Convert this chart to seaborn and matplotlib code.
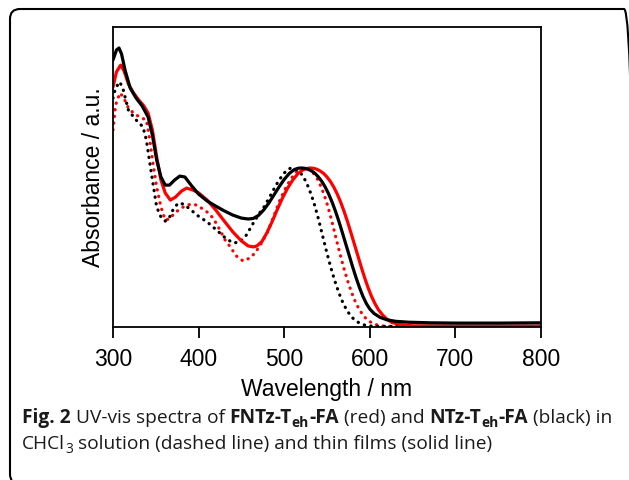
import matplotlib
matplotlib.use("Agg")
import matplotlib.pyplot as plt
from matplotlib.patches import FancyBboxPatch
from matplotlib.transforms import IdentityTransform
import seaborn as sns
import pandas as pd

# ---------------- data ----------------
# NTz-Teh-FA thin film (black solid)
wl_film_ntz = [300, 304, 307, 310, 314, 320, 327, 334, 341, 346, 351, 356, 361, 366, 372,
               378, 384, 392, 400, 410, 420, 430, 440, 450, 458, 464, 470, 476, 482, 488,
               494, 500, 506, 512, 516, 520, 524, 528, 532, 536, 540, 544, 548, 552, 556,
               560, 564, 568, 572, 576, 580, 584, 588, 592, 596, 600, 605, 612, 620, 630,
               645, 670, 700, 750, 800]
abs_film_ntz = [0.890, 0.923, 0.930, 0.910, 0.857, 0.797, 0.763, 0.737, 0.700, 0.640, 0.557,
                0.500, 0.473, 0.473, 0.490, 0.503, 0.500, 0.470, 0.443, 0.420, 0.403, 0.387,
                0.373, 0.363, 0.360, 0.362, 0.372, 0.390, 0.413, 0.440, 0.467, 0.492, 0.512,
                0.525, 0.529, 0.530, 0.529, 0.526, 0.520, 0.512, 0.500, 0.485, 0.466, 0.443,
                0.416, 0.385, 0.351, 0.314, 0.276, 0.238, 0.200, 0.164, 0.131, 0.102, 0.078,
                0.060, 0.045, 0.032, 0.024, 0.019, 0.016, 0.014, 0.013, 0.013, 0.014]

# FNTz-Teh-FA thin film (red solid)
wl_film_fntz = [300, 304, 309, 313, 318, 324, 330, 336, 341, 346, 351, 356, 361, 367, 373,
                380, 386, 393, 400, 410, 420, 430, 440, 450, 458, 464, 468, 474, 480, 486,
                492, 498, 504, 510, 516, 522, 526, 530, 534, 538, 542, 546, 550, 554, 558,
                562, 566, 570, 574, 578, 582, 586, 590, 594, 598, 602, 606, 610, 615, 620,
                626, 635, 650, 700, 800]
abs_film_fntz = [0.800, 0.850, 0.873, 0.853, 0.810, 0.780, 0.757, 0.737, 0.713, 0.657, 0.567,
                 0.490, 0.447, 0.423, 0.433, 0.453, 0.463, 0.457, 0.447, 0.423, 0.390, 0.353,
                 0.317, 0.287, 0.270, 0.267, 0.270, 0.285, 0.315, 0.352, 0.392, 0.430, 0.463,
                 0.490, 0.511, 0.524, 0.528, 0.530, 0.529, 0.526, 0.520, 0.512, 0.500, 0.485,
                 0.466, 0.443, 0.416, 0.385, 0.351, 0.314, 0.276, 0.238, 0.200, 0.164, 0.131,
                 0.102, 0.078, 0.058, 0.040, 0.026, 0.015, 0.008, 0.004, 0.003, 0.003]

# NTz-Teh-FA CHCl3 solution (black dotted)
wl_sol_ntz = [300, 303, 308, 312, 318, 326, 335, 339, 343, 347, 351, 356, 361, 365, 370,
              376, 382, 390, 398, 410, 421, 430, 440, 448, 456, 464, 472, 476, 482, 488,
              494, 500, 504, 508, 512, 516, 520, 524, 528, 532, 536, 540, 544, 548, 552,
              556, 560, 564, 568, 572, 576, 580, 585, 590, 597, 610, 700, 800]
abs_sol_ntz = [0.763, 0.797, 0.817, 0.790, 0.723, 0.693, 0.667, 0.623, 0.547, 0.473, 0.400,
               0.367, 0.353, 0.360, 0.390, 0.413, 0.410, 0.393, 0.373, 0.350, 0.323, 0.300,
               0.280, 0.283, 0.307, 0.347, 0.383, 0.398, 0.428, 0.460, 0.490, 0.513, 0.525,
               0.530, 0.528, 0.521, 0.510, 0.492, 0.468, 0.438, 0.402, 0.360, 0.314, 0.268,
               0.224, 0.183, 0.146, 0.113, 0.085, 0.062, 0.044, 0.030, 0.018, 0.010, 0.004,
               0.002, 0.002, 0.002]

# FNTz-Teh-FA CHCl3 solution (red dotted)
wl_sol_fntz = [300, 303, 308, 312, 318, 324, 331, 339, 343, 347, 351, 356, 361, 366, 372,
               380, 387, 394, 400, 410, 417, 425, 431, 437, 444, 452, 460, 466, 472, 480,
               487, 495, 502, 506, 510, 514, 519, 523, 527, 531, 535, 539, 543, 547, 551,
               555, 559, 563, 567, 571, 575, 579, 583, 587, 591, 595, 600, 605, 612, 625,
               700, 800]
abs_sol_fntz = [0.657, 0.740, 0.780, 0.767, 0.730, 0.713, 0.700, 0.690, 0.623, 0.540, 0.467,
                0.400, 0.357, 0.360, 0.380, 0.397, 0.407, 0.410, 0.403, 0.383, 0.363, 0.323,
                0.290, 0.267, 0.237, 0.220, 0.230, 0.247, 0.273, 0.313, 0.363, 0.423, 0.465,
                0.485, 0.502, 0.516, 0.527, 0.530, 0.528, 0.521, 0.510, 0.492, 0.468, 0.438,
                0.402, 0.360, 0.314, 0.268, 0.224, 0.183, 0.146, 0.113, 0.085, 0.062, 0.044,
                0.030, 0.018, 0.010, 0.004, 0.002, 0.002, 0.002]

x_ticks = [300, 400, 500, 600, 700, 800]
x_label = "Wavelength / nm"
y_label = "Absorbance / a.u."

caption_line1 = [("Fig. 2", "bold", False), (" UV-vis spectra of ", "normal", False),
                 ("FNTz-T", "bold", False), ("eh", "bold", True), ("-FA", "bold", False),
                 (" (red) and ", "normal", False),
                 ("NTz-T", "bold", False), ("eh", "bold", True), ("-FA", "bold", False),
                 (" (black) in", "normal", False)]
caption_line2 = [("CHCl", "normal", False), ("3", "normal", True),
                 (" solution (dashed line) and thin films (solid line)", "normal", False)]

# ---------------- figure ----------------
sns.set_theme(style="white")
plt.rcParams["font.family"] = ["Liberation Sans", "DejaVu Sans"]

W, H = 629, 480
fig = plt.figure(figsize=(W / 100, H / 100), dpi=100)
fig.patch.set_facecolor("white")

# plot area in pixel coordinates (left, top, right, bottom)
L, T, R, B = 113, 27, 541, 327
ax = fig.add_axes([L / W, 1 - B / H, (R - L) / W, (B - T) / H])

dot_style = dict(linestyle=(0, (0.1, 2.0)), dash_capstyle="round", linewidth=2.3)
solid_style = dict(linewidth=2.3)

series = [
    (wl_sol_fntz, abs_sol_fntz, "#ff0000", dot_style),
    (wl_sol_ntz, abs_sol_ntz, "#000000", dot_style),
    (wl_film_fntz, abs_film_fntz, "#ff0000", solid_style),
    (wl_film_ntz, abs_film_ntz, "#000000", solid_style),
]
for wl, ab, col, st in series:
    df = pd.DataFrame({"wl": wl, "abs": ab})
    sns.lineplot(data=df, x="wl", y="abs", color=col, ax=ax, estimator=None,
                 sort=False, **st)

ax.set_xlim(300, 800)
ax.set_ylim(0, 1)
ax.set_xticks(x_ticks)
ax.set_xticklabels([str(t) for t in x_ticks])
ax.set_yticks([])
ax.tick_params(axis="x", direction="out", length=8, width=1.3, color="black",
               labelsize=16.5, pad=7, labelcolor="black", bottom=True)
for sp in ax.spines.values():
    sp.set_visible(True)
    sp.set_color("black")
    sp.set_linewidth(1.3)
ax.set_xlabel(x_label, fontsize=16.5, color="black", labelpad=5)
ax.set_ylabel(y_label, fontsize=16.5, color="black", labelpad=6)
ax.set_facecolor("white")

# rounded outer frame
frame = FancyBboxPatch((10, H - 484), 624, 475,
                       boxstyle="round,pad=0,rounding_size=10",
                       transform=IdentityTransform(), facecolor="none",
                       edgecolor="black", linewidth=1.5, zorder=0)
fig.add_artist(frame)

# caption drawn segment by segment
renderer = fig.canvas.get_renderer()
cap_family = ["Open Sans", "DejaVu Sans"]
cap_size = 13.8


def advance(s, weight, size):
    t1 = fig.text(0, 0, "|" + s + "|", fontsize=size, fontweight=weight,
                  family=cap_family, transform=IdentityTransform())
    t2 = fig.text(0, 0, "||", fontsize=size, fontweight=weight,
                  family=cap_family, transform=IdentityTransform())
    w = t1.get_window_extent(renderer).width - t2.get_window_extent(renderer).width
    t1.remove()
    t2.remove()
    return w


def draw_line(segs, x0, baseline):
    x = x0
    for s, weight, sub in segs:
        size = cap_size * 0.72 if sub else cap_size
        yb = H - baseline - (4 if sub else 0)
        fig.text(x, yb, s, fontsize=size, fontweight=weight, family=cap_family,
                 color="#1a1a1a", va="baseline", ha="left",
                 transform=IdentityTransform())
        x += advance(s, weight, size)


draw_line(caption_line1, 22, 423)
draw_line(caption_line2, 22, 449)

fig.savefig("out.png", dpi=100, facecolor="white")
